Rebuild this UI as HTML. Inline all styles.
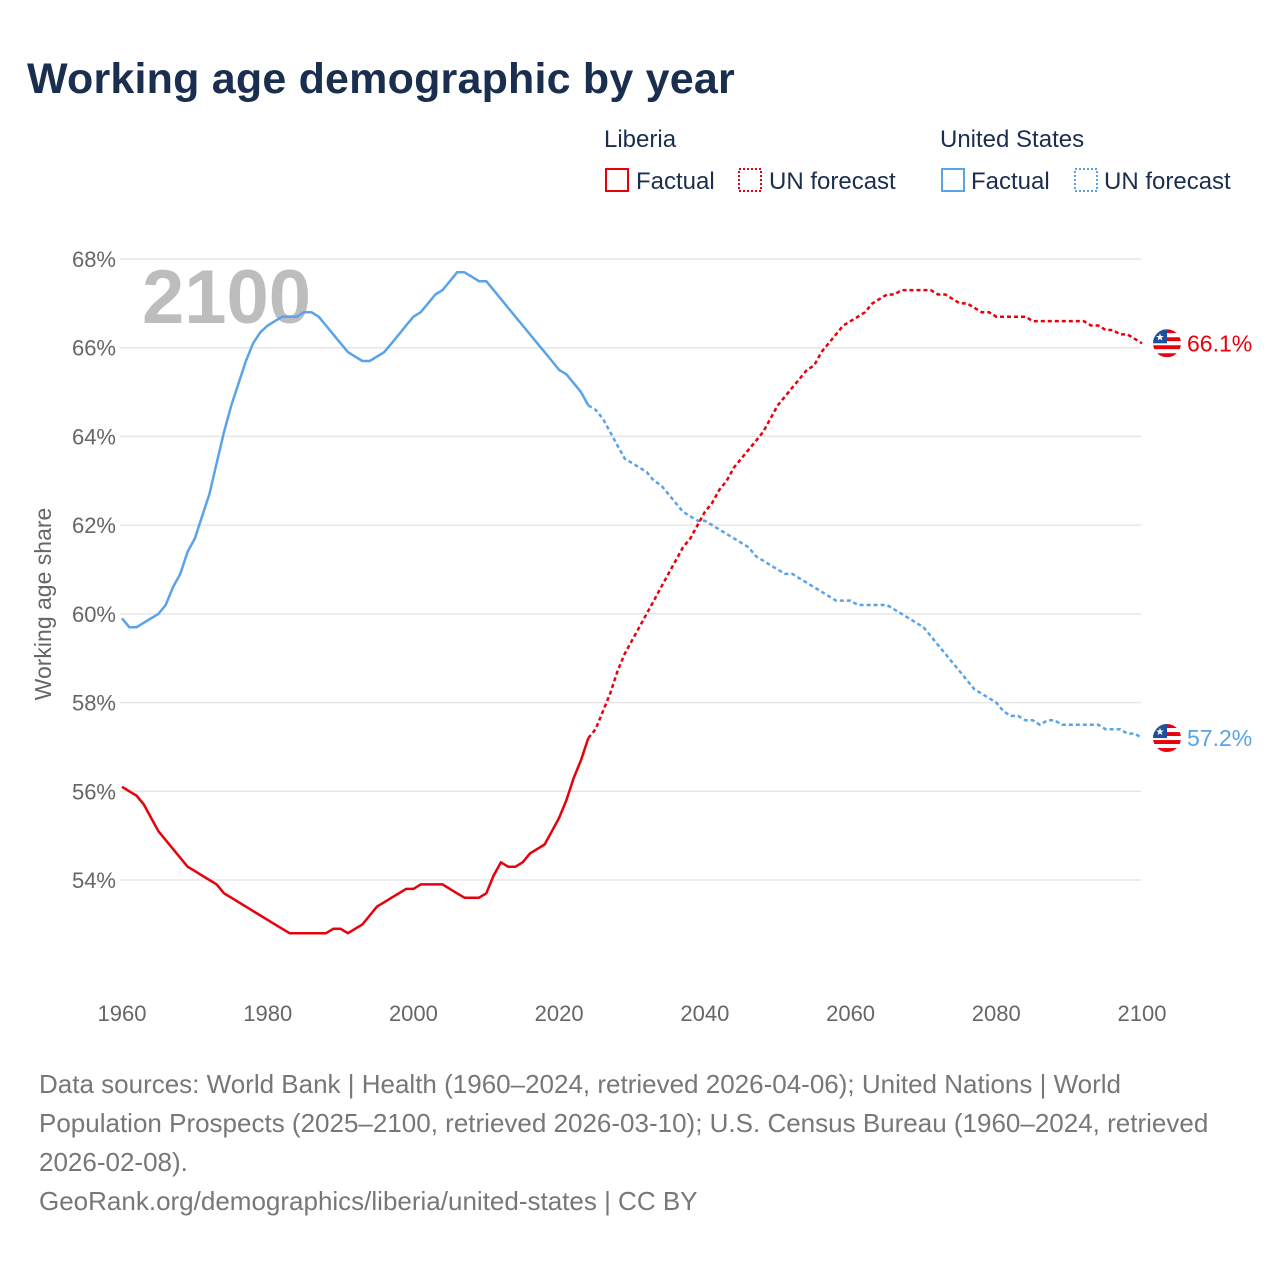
<!DOCTYPE html>
<html><head><meta charset="utf-8"><style>
body{margin:0;background:#fff;font-family:"Liberation Sans",sans-serif;}
svg text{font-family:"Liberation Sans",sans-serif;}
</style></head><body>
<svg id="chart" width="1280" height="1280" xmlns="http://www.w3.org/2000/svg">
<text x="27" y="93" font-size="43" font-weight="bold" fill="#1a2e4f" letter-spacing="0.2">Working age demographic by year</text>
<g font-size="24" fill="#1a2e4f">
<text x="604" y="147" fill="#1a2e4f">Liberia</text>
<text x="940" y="147" fill="#1a2e4f">United States</text>
<g><rect x="606" y="169" width="22" height="22" fill="none" stroke="#e8000b" stroke-width="2"/><text x="636" y="189">Factual</text></g>
<g><rect x="739" y="169" width="22" height="22" fill="none" stroke="#e8000b" stroke-width="2" stroke-dasharray="2,2"/><text x="769" y="189">UN forecast</text></g>
<g><rect x="942" y="169" width="22" height="22" fill="none" stroke="#5aa3e8" stroke-width="2"/><text x="971" y="189">Factual</text></g>
<g><rect x="1075" y="169" width="22" height="22" fill="none" stroke="#5aa3e8" stroke-width="2" stroke-dasharray="2,2"/><text x="1104" y="189">UN forecast</text></g>
</g>
<g id="grid"></g>
<g id="yticks"></g>
<g id="xticks"></g>
<text x="142" y="323" font-size="76" font-weight="bold" fill="#bdbdbd">2100</text>
<text transform="translate(51,604) rotate(-90)" text-anchor="middle" font-size="23" fill="#666">Working age share</text>
<g id="series"></g>
<g id="ends"></g>
<g font-size="26" fill="#777">
<text x="39" y="1093">Data sources: World Bank | Health (1960–2024, retrieved 2026-04-06); United Nations | World</text>
<text x="39" y="1132">Population Prospects (2025–2100, retrieved 2026-03-10); U.S. Census Bureau (1960–2024, retrieved</text>
<text x="39" y="1171">2026-02-08).</text>
<text x="39" y="1210">GeoRank.org/demographics/liberia/united-states | CC BY</text>
</g>
</svg>
<script>
const years = [];
for (let y = 1960; y <= 2100; y++) years.push(y);
const yTicks = [54,56,58,60,62,64,66,68];
const xTicks = [1960,1980,2000,2020,2040,2060,2080,2100];
const lastFactualYear = 2024;
const usValues = [59.9,59.7,59.7,59.8,59.9,60.0,60.2,60.6,60.9,61.4,61.7,62.2,62.7,63.4,64.1,64.7,65.2,65.7,66.1,66.35,66.5,66.6,66.7,66.7,66.7,66.8,66.8,66.7,66.5,66.3,66.1,65.9,65.8,65.7,65.7,65.8,65.9,66.1,66.3,66.5,66.7,66.8,67.0,67.2,67.3,67.5,67.7,67.7,67.6,67.5,67.5,67.3,67.1,66.9,66.7,66.5,66.3,66.1,65.9,65.7,65.5,65.4,65.2,65.0,64.7,64.6,64.4,64.1,63.8,63.5,63.4,63.3,63.2,63.0,62.9,62.7,62.5,62.3,62.2,62.1,62.1,62.0,61.9,61.8,61.7,61.6,61.5,61.3,61.2,61.1,61.0,60.9,60.9,60.8,60.7,60.6,60.5,60.4,60.3,60.3,60.3,60.2,60.2,60.2,60.2,60.2,60.1,60.0,59.9,59.8,59.7,59.5,59.3,59.1,58.9,58.7,58.5,58.3,58.2,58.1,58.0,57.8,57.7,57.7,57.6,57.6,57.5,57.6,57.6,57.5,57.5,57.5,57.5,57.5,57.5,57.4,57.4,57.4,57.3,57.3,57.2];
const liberiaValues = [56.1,56.0,55.9,55.7,55.4,55.1,54.9,54.7,54.5,54.3,54.2,54.1,54.0,53.9,53.7,53.6,53.5,53.4,53.3,53.2,53.1,53.0,52.9,52.8,52.8,52.8,52.8,52.8,52.8,52.9,52.9,52.8,52.9,53.0,53.2,53.4,53.5,53.6,53.7,53.8,53.8,53.9,53.9,53.9,53.9,53.8,53.7,53.6,53.6,53.6,53.7,54.1,54.4,54.3,54.3,54.4,54.6,54.7,54.8,55.1,55.4,55.8,56.3,56.7,57.2,57.4,57.8,58.2,58.7,59.1,59.4,59.7,60.0,60.3,60.6,60.9,61.2,61.5,61.7,62.0,62.3,62.5,62.8,63.0,63.3,63.5,63.7,63.9,64.1,64.4,64.7,64.9,65.1,65.3,65.5,65.6,65.9,66.1,66.3,66.5,66.6,66.7,66.8,67.0,67.1,67.2,67.2,67.3,67.3,67.3,67.3,67.3,67.2,67.2,67.1,67.0,67.0,66.9,66.8,66.8,66.7,66.7,66.7,66.7,66.7,66.6,66.6,66.6,66.6,66.6,66.6,66.6,66.6,66.5,66.5,66.4,66.4,66.3,66.3,66.2,66.1,66.1];
const endLabels = ['66.1%','57.2%'];

const NS='http://www.w3.org/2000/svg';
const X=y=>122+(y-1960)*(1020/140);
const Y=v=>259+(68-v)*(621/14);
function mk(tag,attrs,parent){const e=document.createElementNS(NS,tag);for(const k in attrs)e.setAttribute(k,attrs[k]);parent.appendChild(e);return e;}
const grid=document.getElementById('grid'),yt=document.getElementById('yticks'),xt=document.getElementById('xticks');
yTicks.forEach(v=>{
  const l=mk('line',{x1:120,x2:1141,y1:Y(v),y2:Y(v),stroke:'#e6e6e6','stroke-width':1.5},grid);
  
  
  const t=mk('text',{x:116,y:Y(v)+8,'text-anchor':'end','font-size':22,fill:'#666'},yt);
  t.textContent=v+'%';
  
  
});
xTicks.forEach(y=>{
  const t=mk('text',{x:X(y),y:1021,'text-anchor':'middle','font-size':22,fill:'#666'},xt);
  t.textContent=y;
  
  
});
const ser=document.getElementById('series');
function path(vals,from,to){let d='';for(let i=0;i<years.length;i++){if(years[i]<from||years[i]>to)continue;d+=(d?'L':'M')+X(years[i]).toFixed(1)+','+Y(vals[i]).toFixed(1);}return d;}
function draw(vals,color,name){
  const a=mk('path',{d:path(vals,1960,lastFactualYear),fill:'none',stroke:color,'stroke-width':2.5,'stroke-linejoin':'round'},ser);
  
  
  const b=mk('path',{d:path(vals,lastFactualYear,2100),fill:'none',stroke:color,'stroke-width':2.5,'stroke-dasharray':'4,3'},ser);
  
  
}
draw(usValues,'#5aa3e8','us');
draw(liberiaValues,'#e8000b','liberia');
const ends=document.getElementById('ends');
function flag(cy,name){
  const g=mk('g',{},ends);
  
  
  const cx=1167,r=14;
  mk('clipPath',{id:'c'+name},g);
  const cp=g.lastChild;mk('circle',{cx:cx,cy:cy,r:r},cp);
  const inner=mk('g',{'clip-path':'url(#c'+name+')'},g);
  for(let i=0;i<7;i++){mk('rect',{x:cx-r,y:cy-r+i*4,width:2*r,height:4,fill:i%2?'#fff':'#e8000b'},inner);}
  mk('rect',{x:cx-r,y:cy-r,width:r,height:r,fill:'#1d4f9c'},inner);
  const s=mk('text',{x:cx-7,y:cy-3,'text-anchor':'middle','font-size':10,fill:'#fff'},inner);s.textContent='★';
}
const n=years.length-1;
[[liberiaValues[n],'#e8000b','liberia',endLabels[0]],[usValues[n],'#5aa3e8','us',endLabels[1]]].forEach(([v,c,nm,lab])=>{
  flag(Y(v),nm);
  const t=mk('text',{x:1187,y:Y(v)+8,'font-size':23,fill:c},ends);
  t.textContent=lab;
  
  
});
</script>
</body></html>
